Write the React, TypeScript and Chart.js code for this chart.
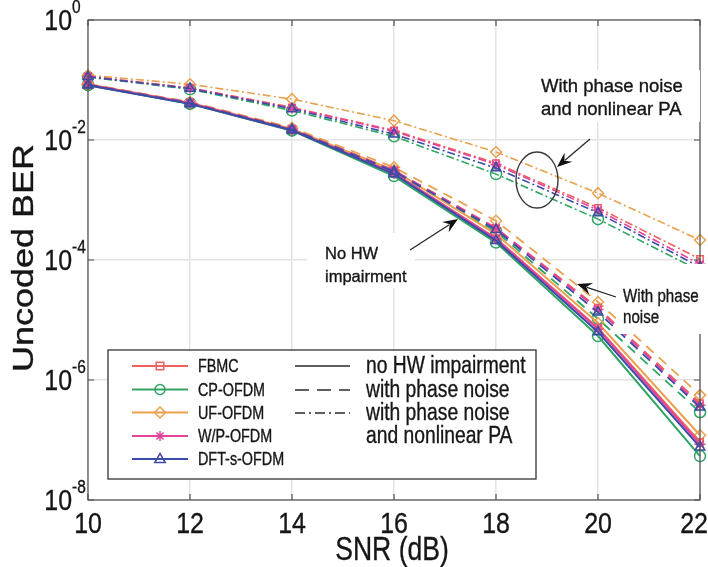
import React, { useEffect, useRef } from "react";
import { Chart, registerables } from "chart.js";

Chart.register(...registerables);

// ---- data ----
const snrDb = [10, 12, 14, 16, 18, 20, 22];
const waveforms = ["FBMC", "CP-OFDM", "UF-OFDM", "W/P-OFDM", "DFT-s-OFDM"];
const conditions = ["no HW impairment", "with phase noise", "with phase noise and nonlinear PA"];
const conditionLegendLines = [["no HW impairment"], ["with phase noise"], ["with phase noise", "and nonlinear PA"]];

// no HW impairment
const fbmcNoHW = [0.083, 0.041, 0.0148, 0.0028, 2.3e-4, 7.4e-6, 9.3e-8];
const cpNoHW = [0.082, 0.04, 0.0143, 0.0025, 1.95e-4, 5.4e-6, 5.4e-8];
const ufNoHW = [0.085, 0.042, 0.0153, 0.0031, 2.7e-4, 8.9e-6, 1.2e-7];
const wpNoHW = [0.083, 0.041, 0.0147, 0.0028, 2.25e-4, 7.1e-6, 8.5e-8];
const dftNoHW = [0.082, 0.04, 0.0145, 0.0027, 2.1e-4, 6.3e-6, 7.6e-8];

// with phase noise
const fbmcPN = [0.084, 0.042, 0.0153, 0.0031, 3.4e-4, 1.6e-5, 4.1e-7];
const cpPN = [0.083, 0.041, 0.0148, 0.0029, 3.0e-4, 1.05e-5, 2.9e-7];
const ufPN = [0.086, 0.043, 0.016, 0.0035, 4.5e-4, 2.0e-5, 5.6e-7];
const wpPN = [0.084, 0.042, 0.0152, 0.0031, 3.4e-4, 1.5e-5, 3.8e-7];
const dftPN = [0.083, 0.041, 0.015, 0.003, 3.2e-4, 1.35e-5, 3.5e-7];

// with phase noise and nonlinear PA
const fbmcPNPA = [0.115, 0.074, 0.035, 0.0145, 4.1e-3, 7.4e-4, 1.04e-4];
const cpPNPA = [0.112, 0.07, 0.031, 0.0115, 2.7e-3, 4.8e-4, 6.6e-5];
const ufPNPA = [0.12, 0.085, 0.048, 0.021, 6.3e-3, 1.3e-3, 2.15e-4];
const wpPNPA = [0.115, 0.073, 0.034, 0.014, 3.9e-3, 6.8e-4, 8.5e-5];
const dftPNPA = [0.113, 0.072, 0.033, 0.0125, 3.4e-3, 6.1e-4, 7.6e-5];

const xTickValues = [10, 12, 14, 16, 18, 20, 22];
const xTickLabels = ["10", "12", "14", "16", "18", "20", "22"];
const yTickValues = [1, 1e-2, 1e-4, 1e-6, 1e-8];
const yTickBase = "10";
const yTickExponents = ["0", "-2", "-4", "-6", "-8"];
const xTitle = "SNR (dB)";
const yTitle = "Uncoded BER";
const annotationPNPA = ["With phase noise", "and nonlinear PA"];
const annotationNoHW = ["No HW", "impairment"];
const annotationPN = ["With phase", "noise"];

// ---- styles ----
const waveColors = ["#EE625C", "#2FA463", "#E8A14F", "#E4439C", "#3B4BA7"];
const waveMarkers = ["rect", "circle", "rectRot", "star", "triangle"];
const condDash = [[], [10, 7], [8, 3, 2, 3]];
const condWidth = [2, 1.8, 1.6];
const legendDash = [[], [14, 8], [10, 4, 2, 4]];

const seriesTable = [
  [fbmcNoHW, cpNoHW, ufNoHW, wpNoHW, dftNoHW],
  [fbmcPN, cpPN, ufPN, wpPN, dftPN],
  [fbmcPNPA, cpPNPA, ufPNPA, wpPNPA, dftPNPA],
];

const drawOrder = [4, 3, 0, 2, 1]; // DFT on top

const FONT = '"Liberation Sans", Arial, Helvetica, sans-serif';
const TXT = "#161616";

function txt(ctx: CanvasRenderingContext2D, s: string, x: number, y: number, size: number, align: CanvasTextAlign = "left", sx = 0.82) {
  ctx.save();
  ctx.translate(x, y);
  ctx.scale(sx, 1);
  ctx.font = `${size}px ${FONT}`;
  ctx.textAlign = align;
  ctx.textBaseline = "alphabetic";
  ctx.fillStyle = TXT;
  ctx.strokeStyle = TXT;
  ctx.lineWidth = 0.35;
  ctx.fillText(s, 0, 0);
  ctx.strokeText(s, 0, 0);
  ctx.restore();
}

function marker(ctx: CanvasRenderingContext2D, style: string, x: number, y: number, r: number, color: string) {
  ctx.save();
  ctx.strokeStyle = color;
  ctx.lineWidth = 1.5;
  ctx.setLineDash([]);
  ctx.beginPath();
  if (style === "rect") {
    ctx.rect(x - r * 0.75, y - r * 0.75, r * 1.5, r * 1.5);
  } else if (style === "circle") {
    ctx.arc(x, y, r, 0, Math.PI * 2);
  } else if (style === "rectRot") {
    ctx.moveTo(x, y - r * 1.1);
    ctx.lineTo(x + r * 1.1, y);
    ctx.lineTo(x, y + r * 1.1);
    ctx.lineTo(x - r * 1.1, y);
    ctx.closePath();
  } else if (style === "star") {
    for (let k = 0; k < 4; k++) {
      const a = (k * Math.PI) / 4;
      ctx.moveTo(x + Math.cos(a) * r, y + Math.sin(a) * r);
      ctx.lineTo(x - Math.cos(a) * r, y - Math.sin(a) * r);
    }
  } else if (style === "triangle") {
    ctx.moveTo(x, y - r * 1.1);
    ctx.lineTo(x + r * 1.05, y + r * 0.7);
    ctx.lineTo(x - r * 1.05, y + r * 0.7);
    ctx.closePath();
  }
  ctx.stroke();
  ctx.restore();
}

function arrow(ctx: CanvasRenderingContext2D, x1: number, y1: number, x2: number, y2: number) {
  const a = Math.atan2(y2 - y1, x2 - x1);
  const L = 15;
  const W = 6;
  const c = Math.cos(a);
  const s = Math.sin(a);
  ctx.save();
  ctx.strokeStyle = "#222";
  ctx.fillStyle = "#111";
  ctx.lineWidth = 1.2;
  ctx.setLineDash([]);
  ctx.beginPath();
  ctx.moveTo(x1, y1);
  ctx.lineTo(x2 - c * L * 0.7, y2 - s * L * 0.7);
  ctx.stroke();
  ctx.beginPath();
  ctx.moveTo(x2, y2);
  ctx.lineTo(x2 - c * L - s * W, y2 - s * L + c * W);
  ctx.lineTo(x2 - c * L * 0.65, y2 - s * L * 0.65);
  ctx.lineTo(x2 - c * L + s * W, y2 - s * L - c * W);
  ctx.closePath();
  ctx.fill();
  ctx.restore();
}

const decorPlugin = {
  id: "decor",
  afterDraw(chart: any) {
    const ctx: CanvasRenderingContext2D = chart.ctx;
    const area = chart.chartArea;
    const xs = chart.scales.x;
    const ys = chart.scales.y;

    // axes box and inward ticks
    ctx.save();
    ctx.strokeStyle = "#505050";
    ctx.lineWidth = 1.2;
    ctx.setLineDash([]);
    ctx.strokeRect(area.left, area.top, area.right - area.left, area.bottom - area.top);
    ctx.beginPath();
    xTickValues.forEach((v) => {
      const px = xs.getPixelForValue(v);
      ctx.moveTo(px, area.bottom);
      ctx.lineTo(px, area.bottom - 6);
      ctx.moveTo(px, area.top);
      ctx.lineTo(px, area.top + 6);
    });
    yTickValues.forEach((v) => {
      const py = ys.getPixelForValue(v);
      ctx.moveTo(area.left, py);
      ctx.lineTo(area.left + 6, py);
      ctx.moveTo(area.right, py);
      ctx.lineTo(area.right - 6, py);
    });
    ctx.stroke();
    ctx.restore();

    // tick labels
    xTickValues.forEach((v, i) => {
      const px = Math.min(xs.getPixelForValue(v), 694);
      txt(ctx, xTickLabels[i], px, area.bottom + 33, 29, "center", 0.86);
    });
    yTickValues.forEach((v, i) => {
      const py = ys.getPixelForValue(v);
      txt(ctx, yTickBase, area.left - 16, py + 10, 29, "right", 0.86);
      txt(ctx, yTickExponents[i], area.left - 16, py - 7, 18, "left", 0.86);
    });

    // axis titles
    txt(ctx, xTitle, 392, 560, 34, "center", 0.78);
    ctx.save();
    ctx.translate(33, 258);
    ctx.rotate(-Math.PI / 2);
    ctx.scale(1.2, 1);
    ctx.font = `30px ${FONT}`;
    ctx.textAlign = "center";
    ctx.textBaseline = "alphabetic";
    ctx.fillStyle = TXT;
    ctx.strokeStyle = TXT;
    ctx.lineWidth = 0.35;
    ctx.fillText(yTitle, 0, 0);
    ctx.strokeText(yTitle, 0, 0);
    ctx.restore();

    // legend
    const lx = 108, ly = 350, lw = 428, lh = 129;
    ctx.save();
    ctx.fillStyle = "#ffffff";
    ctx.fillRect(lx, ly, lw, lh);
    ctx.strokeStyle = "#333";
    ctx.lineWidth = 1.3;
    ctx.strokeRect(lx, ly, lw, lh);
    ctx.restore();
    const rowsL = [366, 389.5, 412.5, 436, 459];
    waveforms.forEach((name, i) => {
      const y = rowsL[i];
      ctx.save();
      ctx.strokeStyle = waveColors[i];
      ctx.lineWidth = 2;
      ctx.setLineDash([]);
      ctx.beginPath();
      ctx.moveTo(132, y);
      ctx.lineTo(188, y);
      ctx.stroke();
      ctx.restore();
      marker(ctx, waveMarkers[i], 160, y, 5, waveColors[i]);
      txt(ctx, name, 198, y + 6, 17.5, "left");
    });
    const rowsR = [366, 390, 413];
    let textRow = 0;
    const textBaselines = [373, 396.5, 420, 443];
    conditions.forEach((_, c) => {
      const y = rowsR[c];
      ctx.save();
      ctx.strokeStyle = "#2a2a2a";
      ctx.lineWidth = 1.4;
      ctx.setLineDash(legendDash[c]);
      ctx.beginPath();
      ctx.moveTo(295, y);
      ctx.lineTo(350, y);
      ctx.stroke();
      ctx.restore();
      conditionLegendLines[c].forEach((line) => {
        txt(ctx, line, 366, textBaselines[textRow], 23.5, "left");
        textRow++;
      });
    });

    // annotations
    ctx.save();
    ctx.fillStyle = "#ffffff";
    ctx.fillRect(535, 70, 165, 52);
    ctx.fillRect(307, 233, 108, 55);
    ctx.fillRect(616, 264, 92, 70);
    ctx.restore();

    annotationPNPA.forEach((s, i) => txt(ctx, s, 541, 92 + i * 22.5, 18.5, "left", 1));
    annotationNoHW.forEach((s, i) => txt(ctx, s, 325, 259 + i * 23, 16.5, "left", 1));
    annotationPN.forEach((s, i) => txt(ctx, s, 623, 302 + i * 21, 18, "left", 0.84));

    ctx.save();
    ctx.strokeStyle = "#3a3a3a";
    ctx.lineWidth = 1.4;
    ctx.setLineDash([]);
    ctx.beginPath();
    ctx.ellipse(537, 180, 21, 28, 0, 0, Math.PI * 2);
    ctx.stroke();
    ctx.restore();

    arrow(ctx, 590, 139, 557, 167);
    arrow(ctx, 410, 250, 458, 219);
    arrow(ctx, 616, 297, 577, 284);
  },
};

export default function App() {
  const canvasRef = useRef<HTMLCanvasElement | null>(null);

  useEffect(() => {
    const canvas = canvasRef.current;
    if (!canvas) return;
    const datasets: any[] = [];
    for (let c = 0; c < conditions.length; c++) {
      drawOrder.forEach((w, k) => {
        datasets.push({
          label: `${waveforms[w]} (${conditions[c]})`,
          data: snrDb.map((x, i) => ({ x, y: seriesTable[c][w][i] })),
          borderColor: waveColors[w],
          backgroundColor: "rgba(255,255,255,0)",
          borderWidth: condWidth[c],
          borderDash: condDash[c],
          pointStyle: waveMarkers[w],
          pointRadius: waveMarkers[w] === "rect" ? 4.5 : 5.5,
          pointBorderColor: waveColors[w],
          pointBackgroundColor: "rgba(255,255,255,0)",
          pointBorderWidth: 1.5,
          tension: 0,
          clip: false,
          order: k,
        });
      });
    }

    const chart = new Chart(canvas, {
      type: "line",
      data: { datasets },
      options: {
        responsive: false,
        animation: false,
        layout: { padding: { top: 20, right: 8, left: 0, bottom: 0 } },
        plugins: { legend: { display: false }, tooltip: { enabled: false } },
        scales: {
          x: {
            type: "linear",
            min: 10,
            max: 22,
            ticks: { display: false, stepSize: 2 },
            grid: { color: "#e3e3e3", lineWidth: 1.5, drawTicks: false },
            border: { display: false },
            afterFit: (s: any) => {
              s.height = 67;
            },
          },
          y: {
            type: "logarithmic",
            min: 1e-8,
            max: 1,
            afterBuildTicks: (s: any) => {
              s.ticks = yTickValues.map((v) => ({ value: v }));
            },
            ticks: { display: false },
            grid: { color: "#e3e3e3", lineWidth: 1.5, drawTicks: false },
            border: { display: false },
            afterFit: (s: any) => {
              s.width = 88;
            },
          },
        },
      },
      plugins: [decorPlugin],
    });
    return () => chart.destroy();
  }, []);

  return (
    <div style={{ position: "fixed", left: 0, top: 0, width: 708, height: 567, background: "#fff" }}>
      <canvas ref={canvasRef} width={708} height={567} style={{ display: "block" }} />
    </div>
  );
}
